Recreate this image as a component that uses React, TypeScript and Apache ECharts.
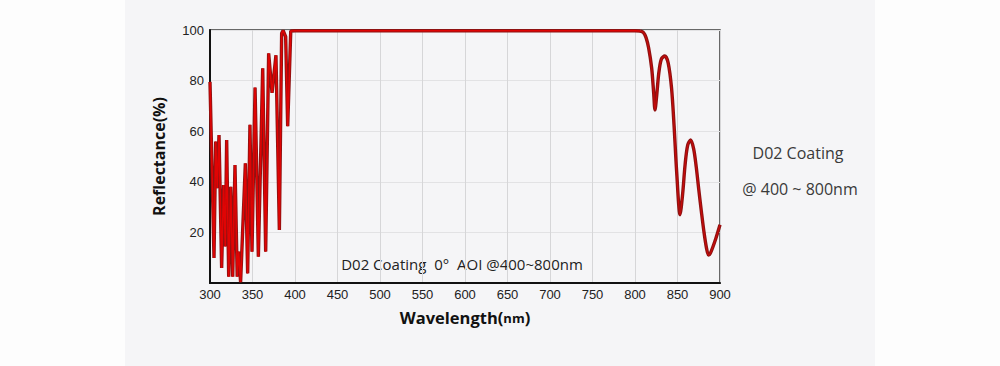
import React, { useEffect, useRef } from "react";
import * as echarts from "echarts";

const bandWavelength = [
  300, 304.7, 306.7, 308.5, 310.6, 313.7, 316, 318, 319.6, 322, 324.4, 326.7,
  329.4, 332, 333.7, 336, 341.6, 344.3, 347, 349.4, 353, 356.9, 362, 365.5,
  369, 373, 377.6, 381.6, 384.3, 386, 389, 391.4, 395, 400, 500, 600, 700, 800, 806,
];
const bandReflectance = [
  79.5, 9.9, 55.9, 37.5, 58.5, 5.9, 38.7, 14.4, 56.5, 2.5, 38, 2.5,
  46.6, 2.5, 12.4, 0.3, 47.3, 3.8, 62.5, 12.4, 77.3, 10.4, 84.9, 12.4,
  90.8, 75.2, 90, 21, 98.7, 99.8, 97.4, 62, 99.6, 99.7, 99.7, 99.7, 99.7, 99.7, 99.6,
];
const edgeWavelength = [
  806, 810, 813, 816, 819.6, 822, 823.5, 825.5, 828, 831, 835, 839, 843, 846,
  849, 853, 856, 859, 862, 865.5, 869, 872, 875, 878, 881, 884, 886.5,
  889, 895, 900,
];
const edgeReflectance = [
  99.6, 99, 97, 93, 85, 75, 68.4, 74, 83, 88.5, 89.7, 87, 77, 62,
  44, 27, 35, 47, 54.5, 56.5, 53, 46, 37, 28.5, 20.5, 14, 11,
  12, 17.5, 23,
];
const xTicks = { min: 300, max: 900, interval: 50 };
const yTicks = { min: 0, max: 100, interval: 20 };
const annotation = "D02 Coating  0°  AOI @400~800nm";
const sideTitle = "D02 Coating";
const sideRange = "@ 400 ~ 800nm";

export default function App() {
  const ref = useRef<HTMLDivElement>(null);
  useEffect(() => {
    document.body.style.margin = "0";
    const chart = echarts.init(ref.current!, undefined, { renderer: "svg" });
    const band = bandWavelength.map((w, i) => [w, bandReflectance[i]]);
    const edge = edgeWavelength.map((w, i) => [w, edgeReflectance[i]]);
    const under = { color: "#8e1212", width: 3.4 };
    const over = { color: "#e00404", width: 1.6 };
    chart.setOption({
      animation: false,
      backgroundColor: "#fdfdfd",
      grid: {
        left: 210,
        right: 280,
        top: 30,
        bottom: 83,
        show: true,
        borderColor: "#3a3a3a",
        borderWidth: 1.5,
        backgroundColor: "transparent",
      },
      graphic: [
        {
          type: "rect",
          z: -10,
          silent: true,
          shape: { x: 125, y: 0, width: 750, height: 366 },
          style: { fill: "#f5f5f7" },
        },
        {
          type: "text",
          x: 462,
          y: 264,
          style: {
            text: annotation,
            fontFamily: "Open Sans",
            fontSize: 15,
            fill: "#222",
            align: "center",
            verticalAlign: "middle",
          },
        },
        {
          type: "text",
          x: 798,
          y: 153,
          style: {
            text: sideTitle,
            fontFamily: "Open Sans",
            fontSize: 16,
            fill: "#3a3a3a",
            align: "center",
            verticalAlign: "middle",
          },
        },
        {
          type: "text",
          x: 800,
          y: 189,
          style: {
            text: sideRange,
            fontFamily: "Open Sans",
            fontSize: 16,
            fill: "#3a3a3a",
            align: "center",
            verticalAlign: "middle",
          },
        },
      ],
      xAxis: {
        type: "value",
        min: xTicks.min,
        max: xTicks.max,
        interval: xTicks.interval,
        name: "{a|Wavelength(}{b|nm}{a|)}",
        nameLocation: "middle",
        nameGap: 26,
        nameTextStyle: {
          rich: {
            a: { fontFamily: "Open Sans", fontWeight: "bold", fontSize: 16.5, color: "#111" },
            b: { fontFamily: "Open Sans", fontWeight: "bold", fontSize: 13, color: "#111" },
          },
        },
        axisLine: { show: true, onZero: false, lineStyle: { color: "#111", width: 2 } },
        axisTick: { show: false },
        axisLabel: { fontFamily: "Liberation Sans", fontSize: 13, color: "#222", margin: 5 },
        splitLine: { show: true, lineStyle: { color: "#d6d6d8", width: 1 } },
      },
      yAxis: {
        type: "value",
        min: yTicks.min,
        max: yTicks.max,
        interval: yTicks.interval,
        name: "Reflectance(%)",
        nameLocation: "middle",
        nameGap: 43,
        nameTextStyle: { fontFamily: "Open Sans", fontWeight: "bold", fontSize: 16, color: "#111" },
        axisLine: { show: true, lineStyle: { color: "#111", width: 2 } },
        axisTick: { show: false },
        axisLabel: {
          fontFamily: "Liberation Sans",
          fontSize: 13,
          color: "#222",
          margin: 6,
          formatter: (v: number) => (v === 0 ? "" : String(v)),
        },
        splitLine: { show: true, lineStyle: { color: "#e2e2e4", width: 1 } },
      },
      series: [
        { type: "line", data: band, showSymbol: false, symbol: "none", lineStyle: under, z: 2 },
        { type: "line", data: edge, showSymbol: false, symbol: "none", smooth: 0.3, lineStyle: under, z: 2 },
        { type: "line", data: band, showSymbol: false, symbol: "none", lineStyle: over, z: 3 },
        { type: "line", data: edge, showSymbol: false, symbol: "none", smooth: 0.3, lineStyle: { color: "#c80a0a", width: 1.2 }, z: 3 },
      ],
    });
    return () => chart.dispose();
  }, []);
  return (
    <div
      ref={ref}
      style={{ position: "absolute", left: 0, top: 0, width: 1000, height: 366 }}
    />
  );
}
